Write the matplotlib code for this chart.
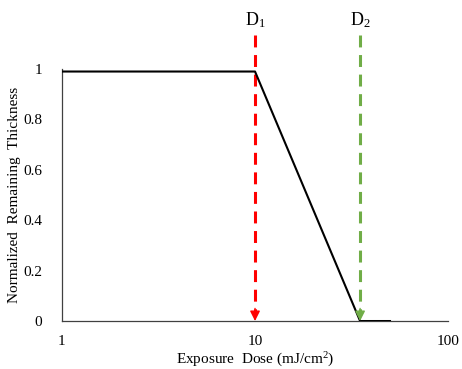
import matplotlib
matplotlib.use("Agg")
import matplotlib.pyplot as plt

plt.rcParams['font.family'] = ['Liberation Serif', 'DejaVu Serif']
plt.rcParams['mathtext.fontset'] = 'custom'
plt.rcParams['mathtext.rm'] = 'Liberation Serif'
plt.rcParams['mathtext.it'] = 'Liberation Serif:italic'
plt.rcParams['mathtext.bf'] = 'Liberation Serif:bold'

dose = [1, 10, 35, 50]
thickness = [0.99, 0.99, 0.0, 0.0]
d1 = 10
d2 = 35
xticks = [1, 10, 100]
yticks = [0, 0.2, 0.4, 0.6, 0.8, 1]
ytick_labels = ['0', '0.2', '0.4', '0.6', '0.8', '1']

fig = plt.figure(figsize=(4.62, 3.69), dpi=100)
ax = fig.add_axes([0.134, 0.130, 0.836, 0.683])
ax.set_xscale('log')
ax.set_xlim(1, 100)
ax.set_ylim(0, 1)

ax.plot(dose, thickness, color='black', lw=1.5, zorder=3)

for xv, col, lab in [(d1, '#FF0000', 'D$_\\mathrm{1}$'), (d2, '#70AD47', 'D$_\\mathrm{2}$')]:
    ax.plot([xv, xv], [1.135, 0.04], color=col, lw=2.2, dashes=(3.9, 2.5), clip_on=False, zorder=2)
    ax.annotate('', xy=(xv, 0.0), xytext=(xv, 0.05),
                arrowprops=dict(arrowstyle='-|>', color=col, lw=1.0, mutation_scale=15,
                                shrinkA=0, shrinkB=0), annotation_clip=False)
    ax.text(xv, 1.195, lab, ha='center', va='center', fontsize=13)

for s in ['top', 'right']:
    ax.spines[s].set_visible(False)
for s in ['left', 'bottom']:
    ax.spines[s].set_linewidth(0.9)
    ax.spines[s].set_color('#404040')

ax.set_xticks(xticks)
ax.set_xticklabels([str(t) for t in xticks])
ax.minorticks_off()
ax.set_yticks(yticks)
ax.set_yticklabels(ytick_labels)
ax.tick_params(axis='both', length=0, labelsize=11)
ax.tick_params(axis='x', pad=10)
ax.tick_params(axis='y', pad=14)

ax.set_xlabel('Exposure  Dose (mJ/cm$^\\mathrm{2}$)', fontsize=11, labelpad=2)
ax.set_ylabel('Normalized  Remaining  Thickness', fontsize=11, labelpad=2)

fig.savefig('out.png', dpi=100)
